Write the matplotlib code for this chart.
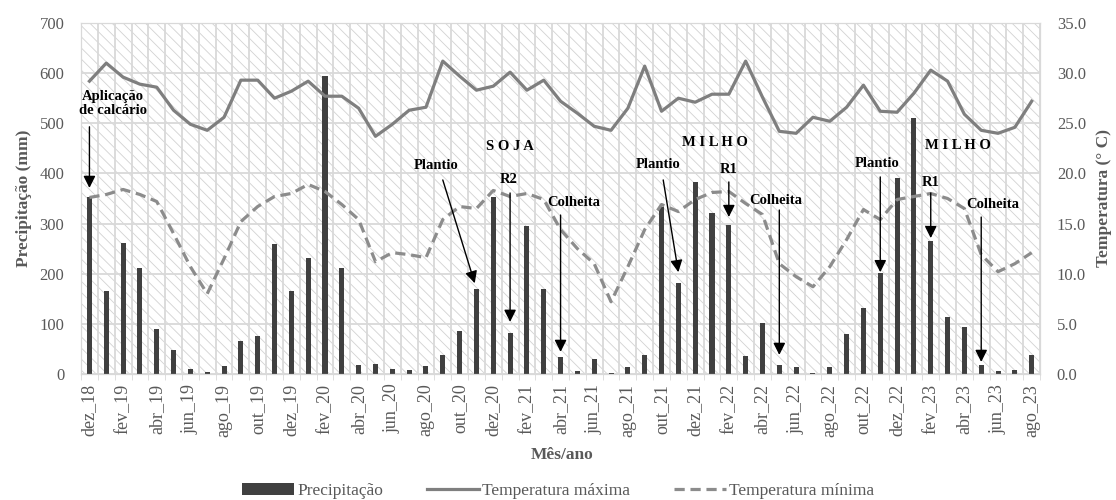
import matplotlib.pyplot as plt
import numpy as np
from matplotlib.patches import Rectangle, Patch
from matplotlib.lines import Line2D
from matplotlib.ticker import FixedLocator

meses = [
    'dez_18', 'jan_19', 'fev_19', 'mar_19', 'abr_19', 'mai_19', 'jun_19', 'jul_19',
    'ago_19', 'set_19', 'out_19', 'nov_19', 'dez_19', 'jan_20', 'fev_20', 'mar_20',
    'abr_20', 'mai_20', 'jun_20', 'jul_20', 'ago_20', 'set_20', 'out_20', 'nov_20',
    'dez_20', 'jan_21', 'fev_21', 'mar_21', 'abr_21', 'mai_21', 'jun_21', 'jul_21',
    'ago_21', 'set_21', 'out_21', 'nov_21', 'dez_21', 'jan_22', 'fev_22', 'mar_22',
    'abr_22', 'mai_22', 'jun_22', 'jul_22', 'ago_22', 'set_22', 'out_22', 'nov_22',
    'dez_22', 'jan_23', 'fev_23', 'mar_23', 'abr_23', 'mai_23', 'jun_23', 'jul_23',
    'ago_23',
]

# precipitacao mensal (mm)
precipitacao = [
    352, 166, 262, 212, 90, 48, 10, 3, 15, 65, 75, 259, 166, 232, 595, 212,
    18, 20, 10, 8, 15, 38, 86, 169, 353, 81, 295, 169, 33, 5, 30, 2,
    13, 38, 334, 182, 383, 321, 297, 35, 102, 18, 13, 2, 13, 79, 131, 202,
    391, 510, 265, 113, 93, 18, 6, 7, 37,
]

# temperaturas (graus C)
temp_max = [
    29.2, 31.0, 29.6, 28.9, 28.6, 26.3, 24.9, 24.3, 25.6, 29.3, 29.3, 27.5,
    28.2, 29.2, 27.7, 27.7, 26.5, 23.7, 24.9, 26.3, 26.6, 31.2, 29.7, 28.3,
    28.7, 30.1, 28.3, 29.3, 27.2, 26.0, 24.7, 24.3, 26.5, 30.7, 26.2, 27.5,
    27.1, 27.9, 27.9, 31.2, 27.6, 24.2, 24.0, 25.6, 25.2, 26.6, 28.8, 26.2,
    26.1, 28.0, 30.3, 29.2, 25.9, 24.3, 24.0, 24.6, 27.2,
]
temp_min = [
    17.6, 17.9, 18.4, 17.9, 17.2, 14.0, 10.7, 8.0, 11.5, 15.2, 16.7, 17.7,
    18.0, 18.9, 18.2, 16.9, 15.4, 11.2, 12.1, 11.9, 11.6, 15.4, 16.7, 16.5,
    18.3, 17.7, 18.0, 17.4, 14.4, 12.5, 11.0, 7.2, 10.7, 14.4, 16.9, 16.2,
    17.4, 18.1, 18.2, 17.0, 15.9, 11.0, 9.7, 8.7, 10.7, 13.4, 16.4, 15.4,
    17.4, 17.7, 18.0, 17.5, 16.5, 11.9, 10.2, 11.0, 12.1,
]

# textos: (texto, posicao x em meses, altura em mm)
textos = [
    ('Aplicação\nde calcário', 1.4, 539),
    ('S O J A', 25.0, 453),
    ('Plantio', 20.6, 415),
    ('R2', 24.9, 387),
    ('Colheita', 28.8, 343),
    ('M I L H O', 37.2, 461),
    ('Plantio', 33.8, 417),
    ('R1', 38.0, 407),
    ('Colheita', 40.8, 347),
    ('Plantio', 46.8, 419),
    ('M I L H O', 51.6, 455),
    ('R1', 50.0, 381),
    ('Colheita', 53.7, 339),
]
# setas: (x inicio, y inicio, x ponta, y ponta)
setas = [
    (0, 493, 0, 371),
    (21.0, 387, 22.9, 181),
    (25, 361, 25, 104),
    (28, 317, 28, 44),
    (34.1, 387, 35, 203),
    (38, 383, 38, 313),
    (41, 327, 41, 38),
    (47, 393, 47, 203),
    (50, 361, 50, 271),
    (53, 313, 53, 24),
]

plt.rcParams['font.family'] = 'Liberation Serif'
plt.rcParams['hatch.linewidth'] = 0.6
cinza = '#595959'
grade = '#d9d9d9'

fig = plt.figure(figsize=(11.16, 5), dpi=100)
ax = fig.add_axes([0.0726, 0.252, 0.8594, 0.702])
x = np.arange(len(meses))

# fundo hachurado da area do grafico
ax.add_patch(Rectangle((0, 0), 1, 1, transform=ax.transAxes, facecolor='white',
                       edgecolor='#d2d2d2', hatch='\\\\\\', lw=0, zorder=0))

ax.bar(x, precipitacao, width=0.3, color='#404040', zorder=2)
ax.set_xlim(-0.5, len(meses) - 0.5)
ax.set_ylim(0, 700)
ax.set_yticks(range(0, 701, 100))
ax.set_xticks(x[::2])
ax.set_xticklabels(meses[::2], rotation=90)
ax.xaxis.set_minor_locator(FixedLocator(np.arange(-0.5, len(meses), 1)))
ax.set_axisbelow(True)
ax.grid(axis='y', which='major', color=grade, lw=1.3)
ax.grid(axis='x', which='minor', color=grade, lw=1.3)
ax.tick_params(axis='x', which='major', length=0, pad=7, labelsize=13, colors=cinza)
ax.tick_params(axis='x', which='minor', length=4, color=grade)
ax.tick_params(axis='y', length=0, pad=12, labelsize=12, colors=cinza)
for s in ax.spines.values():
    s.set_color(grade)
ax.set_ylabel('Precipitação (mm)', fontsize=12.5, fontweight='bold', color=cinza)
ax.yaxis.set_label_coords(-0.051, 0.5)

ax2 = ax.twinx()
ax2.plot(x, temp_max, color='#7f7f7f', lw=2.3, zorder=3)
ax2.plot(x, temp_min, color='#8c8c8c', lw=2.3, linestyle=(0, (3.2, 1.8)), zorder=3)
ax2.set_ylim(0, 35)
ax2.set_yticks(np.arange(0, 35.1, 5))
ax2.set_yticklabels(['{:.1f}'.format(v) for v in np.arange(0, 35.1, 5)])
ax2.tick_params(axis='y', length=0, pad=12, labelsize=12, colors=cinza)
for s in ax2.spines.values():
    s.set_color(grade)
ax2.set_ylabel('Temperatura (° C)', fontsize=12.5, fontweight='bold', color=cinza)
ax2.yaxis.set_label_coords(1.058, 0.5)

for texto, tx, ty in textos:
    ax2.text(tx, ty, texto, transform=ax.transData, ha='center', va='center',
             fontsize=10.5, fontweight='bold', color='black', linespacing=1.05)
for x0, y0, x1, y1 in setas:
    ax2.annotate('', xy=(x1, y1), xytext=(x0, y0), xycoords=ax.transData,
                 textcoords=ax.transData,
                 arrowprops=dict(arrowstyle='-|>,head_length=0.6,head_width=0.3',
                                 color='black', lw=1.0, shrinkA=0, shrinkB=0,
                                 mutation_scale=12))

fig.text(0.504, 0.09, 'Mês/ano', ha='center', va='center', fontsize=12.5,
         fontweight='bold', color=cinza)

handles = [
    Patch(facecolor='#404040'),
    Line2D([], [], color='#7f7f7f', lw=2.3),
    Line2D([], [], color='#8c8c8c', lw=2.3, linestyle=(0, (3.2, 1.8))),
]
leg = fig.legend(handles, ['Precipitação', 'Temperatura máxima', 'Temperatura mínima'],
                 loc='lower center', bbox_to_anchor=(0.5, -0.03), ncol=3, frameon=False,
                 fontsize=12.5, handlelength=3.0, columnspacing=2.5, handletextpad=0.2)
for t in leg.get_texts():
    t.set_color(cinza)

fig.savefig('out.png', dpi=100)
